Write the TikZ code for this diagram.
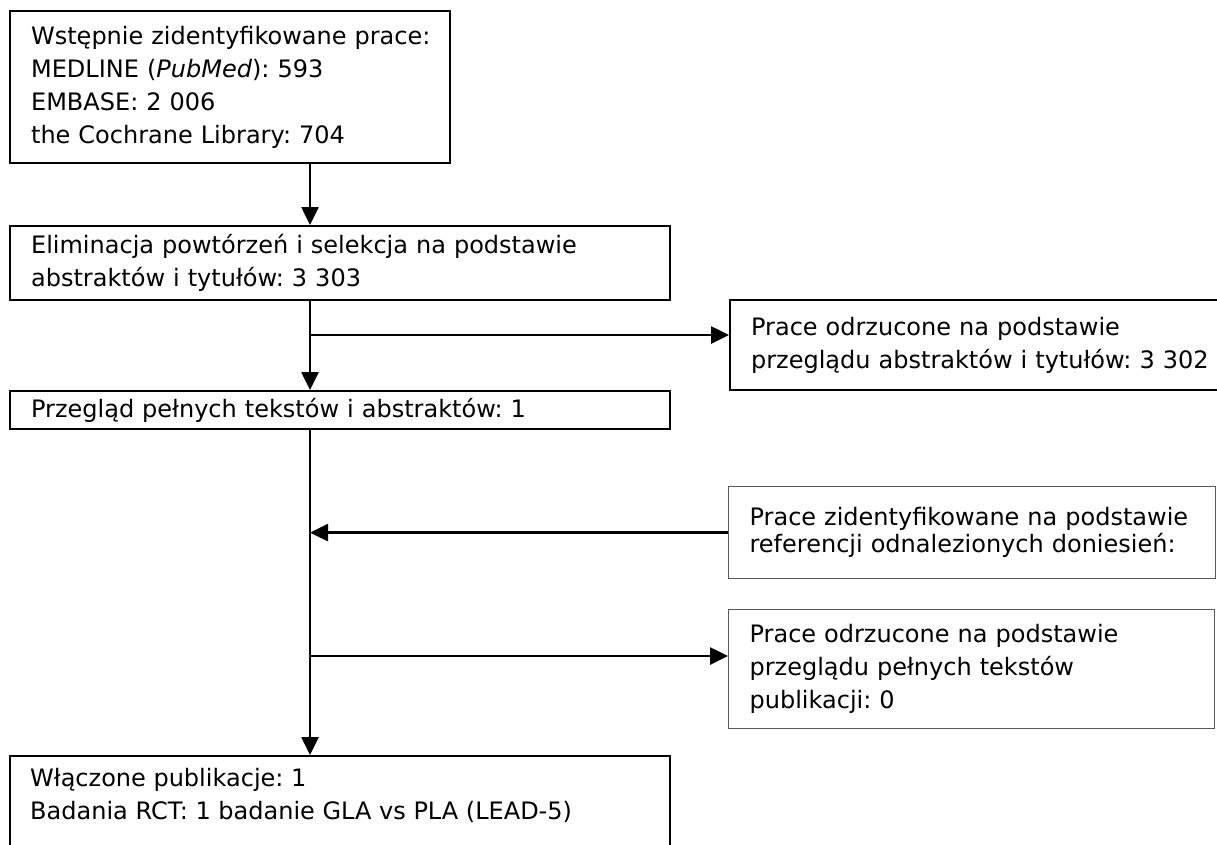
\documentclass[tikz,border=0pt]{standalone}
\usepackage{fontspec}
\setmainfont{DejaVu Sans}
\frenchspacing
\usetikzlibrary{arrows.meta}

\begin{document}
\begin{tikzpicture}[
  x=1pt, y=-1pt,
  txt/.style={font=\fontsize{24}{33}\selectfont},
  stagebox/.style={draw, line width=2.2pt, anchor=north west, inner xsep=0pt, inner ysep=0pt, align=left, txt, execute at begin node={\leftskip=21pt\relax}},
  sidebox/.style={stagebox, draw=black!65, line width=1.2pt},
  flow/.style={-{Triangle[length=18pt,width=17pt]}, line width=2.6pt}
]
\useasboundingbox (0,0) rectangle (1217,844);

% main column
\node[stagebox, text width=440pt, minimum height=152pt] (ident) at (9,10) {Wstępnie zidentyfikowane prace:\\MEDLINE (\textit{PubMed}): 593\\EMBASE: 2 006\\the Cochrane Library: 704};
\node[stagebox, text width=660pt, minimum height=74pt] (dedup) at (9,225) {Eliminacja powtórzeń i selekcja na podstawie\\abstraktów i tytułów: 3 303};
\node[stagebox, text width=660pt, minimum height=38pt] (fulltext) at (9,390) {Przegląd pełnych tekstów i abstraktów: 1};
\node[stagebox, text width=660pt, minimum height=100pt] (incl) at (9,755) {};
\node[anchor=north west, inner sep=0pt, align=left, txt] (incltxt) at ([xshift=21pt, yshift=-13pt]incl.north west) {Włączone publikacje: 1\\Badania RCT: 1 badanie GLA vs PLA (LEAD-5)};

% side boxes
\node[stagebox, text width=500pt, minimum height=90pt] (excl1) at (729,299) {Prace odrzucone na podstawie\\przeglądu abstraktów i tytułów: 3 302};
\node[sidebox, text width=487pt, minimum height=92pt, font=\fontsize{24}{27}\selectfont] (refs) at (728,486) {Prace zidentyfikowane na podstawie\\referencji odnalezionych doniesień:};
\node[sidebox, text width=486pt, minimum height=119pt] (excl2) at (728,609) {Prace odrzucone na podstawie\\przeglądu pełnych tekstów\\publikacji: 0};

\coordinate (spine) at (310,0);
\coordinate (split1) at (310,335);
\coordinate (split2) at (310,656);

\draw[flow] (ident.south -| spine) -- (dedup.north -| spine);
\draw[flow] (dedup.south -| spine) -- (fulltext.north -| spine);
\draw[flow] (split1) -- (split1 -| excl1.west);
\draw[flow] (fulltext.south -| spine) -- (incl.north -| spine);
\draw[flow] (refs.west) -- (refs.west -| spine);
\draw[flow] (split2) -- (split2 -| excl2.west);
\end{tikzpicture}
\end{document}
